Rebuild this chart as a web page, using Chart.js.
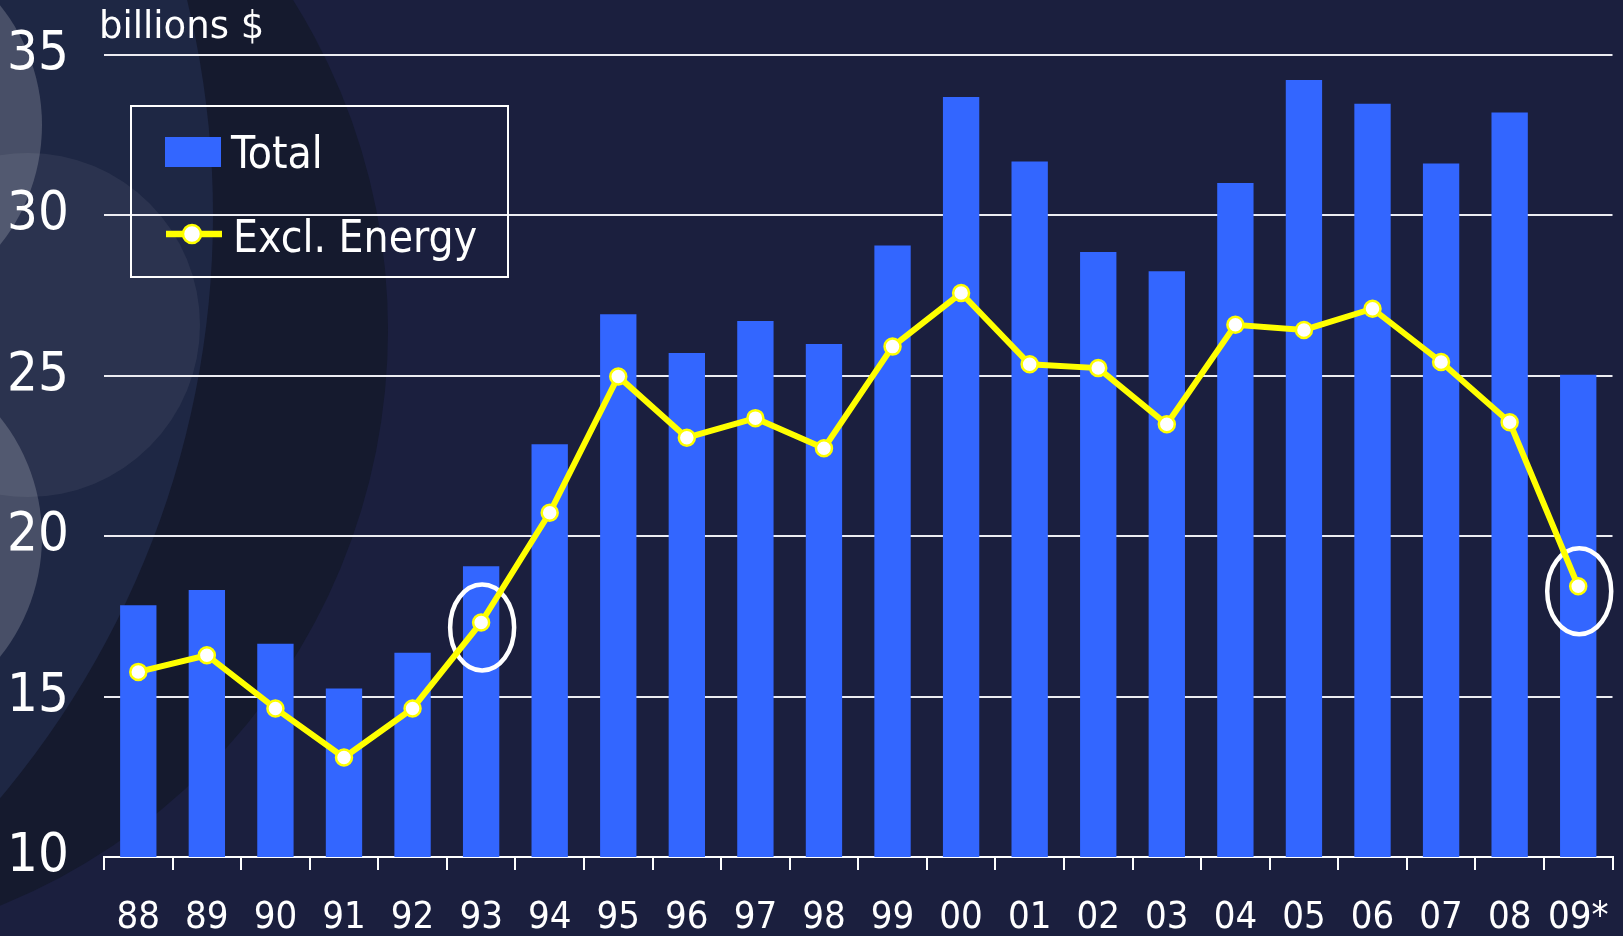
<!DOCTYPE html>
<html><head><meta charset="utf-8">
<script src="https://cdn.jsdelivr.net/npm/chart.js@4.4.1/dist/chart.umd.min.js"></script>
<style>html,body{margin:0;padding:0;background:#1b1f3e;overflow:hidden}#wrap{width:1623px;height:936px;position:relative}</style>
</head><body><div id="wrap"><canvas id="c"></canvas></div>
<script>
const categories = ['88','89','90','91','92','93','94','95','96','97','98','99','00','01','02','03','04','05','06','07','08','09*'];
const totalValues = [17.85, 18.32, 16.65, 15.25, 16.37, 19.06, 22.87, 26.92, 25.71, 26.71, 25.99, 29.06, 33.69, 31.68, 28.86, 28.26, 31.01, 34.22, 33.48, 31.62, 33.21, 25.03];
const exclEnergyValues = [15.77, 16.29, 14.63, 13.10, 14.63, 17.31, 20.73, 24.98, 23.07, 23.68, 22.74, 25.91, 27.58, 25.36, 25.24, 23.49, 26.59, 26.43, 27.09, 25.43, 23.55, 18.44];
const yTicks = [10, 15, 20, 25, 30, 35];
const highlightIdx = [5, 21];
const unitLabel = 'billions $';

const COND = "'DejaVu Sans Condensed', 'DejaVu Sans', sans-serif";
const NORM = "'DejaVu Sans', sans-serif";

const bgPlugin = {
  id: 'bg',
  beforeDraw(chart) {
    const ctx = chart.ctx;
    ctx.save();
    ctx.fillStyle = '#1b1f3e';
    ctx.fillRect(0, 0, chart.width, chart.height);
    ctx.fillStyle = '#151a2e';
    ctx.beginPath(); ctx.arc(-233, 330, 621, 0, Math.PI * 2); ctx.fill();
    ctx.fillStyle = '#1e2744';
    ctx.beginPath(); ctx.arc(-692, 215, 905, 0, Math.PI * 2); ctx.fill();
    ctx.fillStyle = 'rgba(255,255,255,0.06)';
    ctx.beginPath(); ctx.arc(28, 325, 172, 0, Math.PI * 2); ctx.fill();
    ctx.fillStyle = 'rgba(255,255,255,0.19)';
    ctx.beginPath(); ctx.arc(-150, 125, 192, 0, Math.PI * 2); ctx.fill();
    ctx.beginPath(); ctx.arc(-150, 537, 192, 0, Math.PI * 2); ctx.fill();
    ctx.restore();
  }
};

const highlightPlugin = {
  id: 'highlight',
  afterDatasetDraw(chart, args) {
    if (args.index !== 1) return;
    const meta = chart.getDatasetMeta(0);
    const ctx = chart.ctx;
    ctx.save();
    ctx.strokeStyle = '#ffffff';
    ctx.lineWidth = 4.5;
    highlightIdx.forEach(i => {
      const p = meta.data[i];
      ctx.beginPath();
      ctx.ellipse(p.x + 1, p.y + 5, 32, 43, 0, 0, Math.PI * 2);
      ctx.stroke();
    });
    ctx.restore();
  }
};

const legendPlugin = {
  id: 'customLegend',
  afterDraw(chart) {
    const ctx = chart.ctx;
    const bar = chart.data.datasets[1];
    const line = chart.data.datasets[0];
    ctx.save();
    ctx.fillStyle = '#ffffff';
    ctx.font = '37px ' + NORM;
    ctx.textBaseline = 'alphabetic';
    ctx.textAlign = 'left';
    ctx.fillText(unitLabel, 99, 38);
    ctx.strokeStyle = '#ffffff';
    ctx.lineWidth = 2;
    ctx.strokeRect(131, 106, 377, 171);
    ctx.fillStyle = bar.backgroundColor;
    ctx.fillRect(165, 137, 56, 30);
    ctx.strokeStyle = line.borderColor;
    ctx.lineWidth = 6.5;
    ctx.beginPath(); ctx.moveTo(166, 234); ctx.lineTo(222, 234); ctx.stroke();
    ctx.fillStyle = line.pointBackgroundColor;
    ctx.lineWidth = 2.5;
    ctx.beginPath(); ctx.arc(192, 234, 9, 0, Math.PI * 2); ctx.fill(); ctx.stroke();
    ctx.fillStyle = '#ffffff';
    ctx.font = '44px ' + COND;
    ctx.fillText(bar.label, 231, 168);
    ctx.fillText(line.label, 233, 252);
    ctx.restore();
  }
};

new Chart(document.getElementById('c'), {
  type: 'bar',
  data: {
    labels: categories,
    datasets: [
      { type: 'line', label: 'Excl. Energy', data: exclEnergyValues, borderColor: '#ffff00', borderWidth: 6,
        pointRadius: 8, pointBorderWidth: 2.5, pointBackgroundColor: '#ffffff', pointBorderColor: '#ffff00',
        tension: 0, order: 0 },
      { type: 'bar', label: 'Total', data: totalValues, backgroundColor: '#3366ff', borderWidth: 0,
        barPercentage: 0.53, categoryPercentage: 1, order: 1 }
    ]
  },
  options: {
    responsive: true, maintainAspectRatio: false, animation: false,
    layout: { padding: { left: 7, right: 8, top: 55, bottom: 0 } },
    plugins: { legend: { display: false }, tooltip: { enabled: false }, title: { display: false } },
    scales: {
      x: {
        grid: { display: true, drawOnChartArea: false, drawTicks: true, tickLength: 13, color: '#ffffff', lineWidth: 2, offset: true },
        border: { display: true, color: '#ffffff', width: 2 },
        ticks: { color: '#ffffff', font: { family: COND, size: 38 }, padding: 25, maxRotation: 0, autoSkip: false },
        afterFit(s) { s.height = 79; s.paddingLeft = 0; s.paddingRight = 0; }
      },
      y: {
        min: 10, max: 35,
        afterBuildTicks(s) { s.ticks = yTicks.map(v => ({ value: v })); },
        grid: { color: '#ececf2', lineWidth: 2, drawTicks: false },
        border: { display: false },
        ticks: { color: '#ffffff', font: { family: COND, size: 54 }, crossAlign: 'far', padding: 0 },
        afterFit(s) { s.width = 97; }
      }
    }
  },
  plugins: [bgPlugin, highlightPlugin, legendPlugin]
});
</script></body></html>
